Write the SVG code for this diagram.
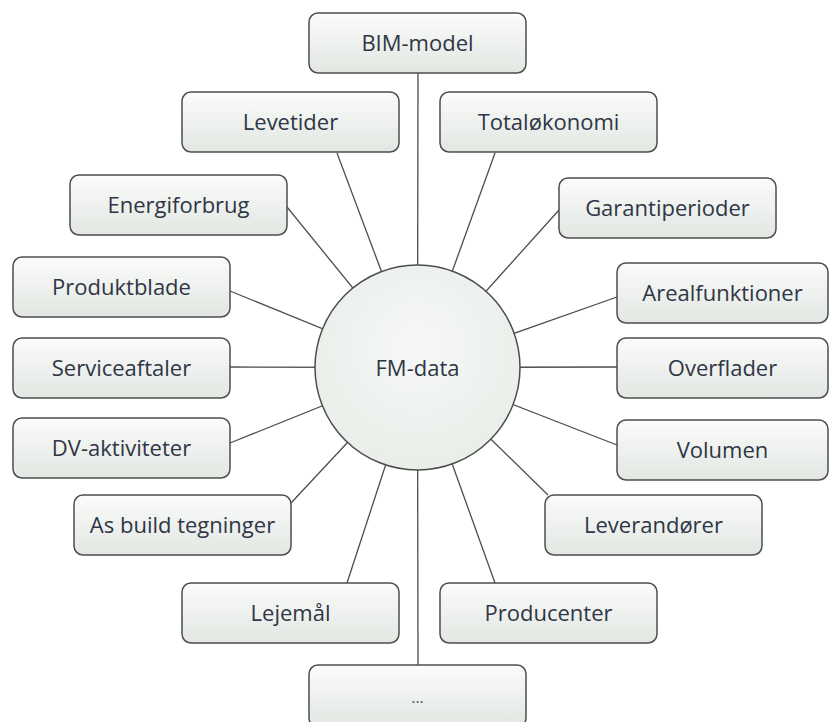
<svg xmlns="http://www.w3.org/2000/svg" width="829" height="722" viewBox="0 0 829 722">
  <defs>
    <linearGradient id="boxFill" x1="0" y1="0" x2="0" y2="1">
      <stop offset="0" stop-color="#fbfcfb"/>
      <stop offset="0.5" stop-color="#eef1ee"/>
      <stop offset="1" stop-color="#e2e7e2"/>
    </linearGradient>
    <radialGradient id="circFill" cx="0.5" cy="0.4" r="0.6">
      <stop offset="0" stop-color="#f6f8f6"/>
      <stop offset="1" stop-color="#e9eee9"/>
    </radialGradient>
    <style>
      .box { fill: url(#boxFill); stroke: #4d4d4d; stroke-width: 1.5; }
      .lbl { font-family: "Open Sans", "Liberation Sans", sans-serif; font-size: 22px; fill: #2f3645; text-anchor: middle; }
      .conn line { stroke: #4d4d4d; stroke-width: 1.3; }
    </style>
  </defs>
  <rect width="829" height="722" fill="#ffffff"/>
  <g id="connectors" class="conn">
    <line x1="418" y1="73" x2="417.5" y2="367.5"/>
    <line x1="337" y1="153" x2="417.5" y2="367.5"/>
    <line x1="495" y1="153" x2="417.5" y2="367.5"/>
    <line x1="287" y1="207" x2="417.5" y2="367.5"/>
    <line x1="559" y1="210" x2="417.5" y2="367.5"/>
    <line x1="230" y1="291" x2="417.5" y2="367.5"/>
    <line x1="230" y1="367" x2="417.5" y2="367.5"/>
    <line x1="230" y1="443" x2="417.5" y2="367.5"/>
    <line x1="291" y1="503" x2="417.5" y2="367.5"/>
    <line x1="347" y1="583" x2="417.5" y2="367.5"/>
    <line x1="418" y1="665" x2="417.5" y2="367.5"/>
    <line x1="495" y1="583" x2="417.5" y2="367.5"/>
    <line x1="548" y1="495" x2="417.5" y2="367.5"/>
    <line x1="617" y1="445" x2="417.5" y2="367.5"/>
    <line x1="617" y1="367" x2="417.5" y2="367.5"/>
    <line x1="617" y1="297" x2="417.5" y2="367.5"/>
  </g>
  <g id="fm-data">
    <circle cx="417.5" cy="367.5" r="102.5" fill="url(#circFill)" stroke="#4d4d4d" stroke-width="1.5"/>
    <text class="lbl" x="417.5" y="376">FM-data</text>
  </g>
  <g id="bim-model"><rect class="box" x="309" y="13" width="217" height="60" rx="9"/><text class="lbl" x="417.5" y="51">BIM-model</text></g>
  <g id="levetider"><rect class="box" x="182" y="92" width="217" height="60" rx="9"/><text class="lbl" x="290.5" y="130">Levetider</text></g>
  <g id="totaloekonomi"><rect class="box" x="440" y="92" width="217" height="60" rx="9"/><text class="lbl" x="548.5" y="130">Totaløkonomi</text></g>
  <g id="energiforbrug"><rect class="box" x="70" y="175" width="217" height="60" rx="9"/><text class="lbl" x="178.5" y="213">Energiforbrug</text></g>
  <g id="garantiperioder"><rect class="box" x="559" y="178" width="217" height="60" rx="9"/><text class="lbl" x="667.5" y="216">Garantiperioder</text></g>
  <g id="produktblade"><rect class="box" x="13" y="257" width="217" height="60" rx="9"/><text class="lbl" x="121.5" y="295">Produktblade</text></g>
  <g id="serviceaftaler"><rect class="box" x="13" y="338" width="217" height="60" rx="9"/><text class="lbl" x="121.5" y="376">Serviceaftaler</text></g>
  <g id="dv-aktiviteter"><rect class="box" x="13" y="418" width="217" height="60" rx="9"/><text class="lbl" x="121.5" y="456">DV-aktiviteter</text></g>
  <g id="as-build"><rect class="box" x="74" y="495" width="217" height="60" rx="9"/><text class="lbl" x="182.5" y="533">As build tegninger</text></g>
  <g id="lejemaal"><rect class="box" x="182" y="583" width="217" height="60" rx="9"/><text class="lbl" x="290.5" y="621">Lejemål</text></g>
  <g id="more"><rect class="box" x="309" y="665" width="217" height="62" rx="9"/><text class="lbl" x="417.5" y="703" style="font-size:16px;fill:#555">...</text></g>
  <g id="producenter"><rect class="box" x="440" y="583" width="217" height="60" rx="9"/><text class="lbl" x="548.5" y="621">Producenter</text></g>
  <g id="leverandoerer"><rect class="box" x="545" y="495" width="217" height="60" rx="9"/><text class="lbl" x="653.5" y="533">Leverandører</text></g>
  <g id="volumen"><rect class="box" x="617" y="420" width="211" height="60" rx="9"/><text class="lbl" x="722.5" y="458">Volumen</text></g>
  <g id="overflader"><rect class="box" x="617" y="338" width="211" height="60" rx="9"/><text class="lbl" x="722.5" y="376">Overflader</text></g>
  <g id="arealfunktioner"><rect class="box" x="617" y="263" width="211" height="60" rx="9"/><text class="lbl" x="722.5" y="301">Arealfunktioner</text></g>
</svg>
